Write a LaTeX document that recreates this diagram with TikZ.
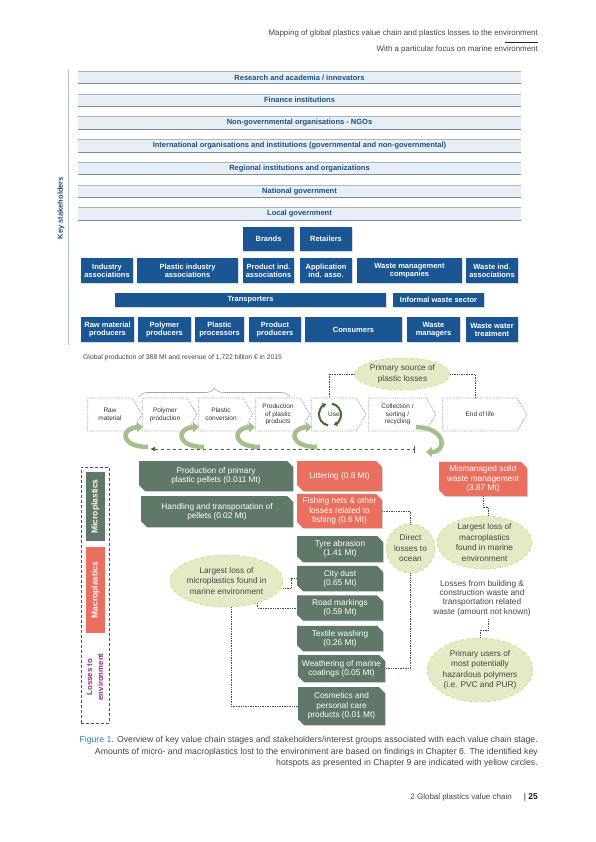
\documentclass[tikz,border=0pt]{standalone}
\usepackage{fontspec}
\setmainfont{Liberation Sans}
\usetikzlibrary{positioning,shapes.geometric,shapes.misc,shapes.symbols,shadows,arrows.meta,decorations.pathreplacing,calc}

\definecolor{bandfill}{HTML}{E6EEF6}
\definecolor{bandline}{HTML}{7F8A94}
\definecolor{stakeblue}{HTML}{1E4F82}
\definecolor{actorblue}{HTML}{1B5694}
\definecolor{microgreen}{HTML}{5F7867}
\definecolor{macrored}{HTML}{EA6F5F}
\definecolor{hotfill}{HTML}{E3EBC6}
\definecolor{hotline}{HTML}{E3CD5C}
\definecolor{losspurple}{HTML}{8E2B8E}
\definecolor{cyclelight}{HTML}{A3BF8C}
\definecolor{cycledark}{HTML}{3F6E29}
\definecolor{captionblue}{HTML}{2F7FB8}
\definecolor{textgray}{HTML}{444444}

\tikzset{
  band/.style={fill=bandfill, minimum width=443pt, minimum height=12.5pt, inner sep=0pt,
    text=stakeblue, font=\bfseries\fontsize{7.5}{8}\selectfont},
  actor/.style={fill=actorblue, text=white, align=center, inner sep=1pt,
    font=\bfseries\fontsize{7.5}{8}\selectfont,
    drop shadow={shadow xshift=0.8pt, shadow yshift=-0.8pt, opacity=0.3}},
  stage/.style={signal, signal to=east, signal from=nowhere, signal pointer angle=120,
    draw=gray!80, densely dotted, line width=0.8pt, align=center, inner sep=1pt,
    minimum height=33pt, font=\fontsize{6.5}{7.7}\selectfont, text=textgray!70!black},
  lossbox/.style={chamfered rectangle, chamfered rectangle corners={north east,south west},
    chamfered rectangle xsep=3pt, chamfered rectangle ysep=3pt, text=white, align=center,
    inner sep=1pt, font=\fontsize{8.3}{9.3}\selectfont,
    drop shadow={shadow xshift=0.8pt, shadow yshift=-0.8pt, opacity=0.3}},
  micro/.style={lossbox, fill=microgreen},
  macro/.style={lossbox, fill=macrored},
  hotspot/.style={ellipse, fill=hotfill, draw=hotline, dashed, line width=0.6pt,
    align=center, inner sep=0pt, text=textgray, font=\fontsize{8.3}{10.5}\selectfont},
  link/.style={densely dotted, draw=gray!60!black, line width=0.7pt},
  sidelabel/.style={rotate=90, text=white, inner sep=0pt, font=\bfseries\fontsize{8.5}{9}\selectfont},
}

\begin{document}
\begin{tikzpicture}[x=1pt, y=-1pt]
\useasboundingbox (0,0) rectangle (595,842);

% header
\node[anchor=east, inner sep=0pt, text=textgray, font=\fontsize{7.9}{9}\selectfont] (header) at (538,33)
  {Mapping of global plastics value chain and plastics losses to the environment};
\draw[gray!30!black, line width=0.8pt] (505,42) -- (538,42);
\node[anchor=east, inner sep=0pt, text=textgray, font=\fontsize{7.9}{9}\selectfont] (subheader) at (538,49)
  {With a particular focus on marine environment};

% key stakeholders
\draw[stakeblue!35, line width=1pt] (68,70) -- (68,345);
\node[rotate=90, text=stakeblue, font=\bfseries\fontsize{7.5}{8}\selectfont] (keylabel) at (61,208) {Key stakeholders};

\foreach \txt [count=\i] in {Research and academia / innovators, Finance institutions,
    Non-governmental organisations - NGOs,
    International organisations and institutions (governmental and non-governmental),
    Regional institutions and organizations, National government, Local government}{
  \node[band] (band\i) at (299.5,{77.5+(\i-1)*22.75}) {\txt};
  \draw[gray!60, line width=0.5pt] (band\i.north west) -- (band\i.north east);
  \draw[bandline, line width=1pt] (band\i.south west) -- (band\i.south east);
}

\foreach \nm/\cx/\w/\txt in {brands/268.5/51/Brands, retailers/326/52/Retailers}
  \node[actor, minimum width=\w pt, minimum height=24pt] (\nm) at (\cx,239) {\txt};
\foreach \nm/\cx/\w/\txt in {indasso/107/52/Industry\\associations,
    plasasso/187.5/101/Plastic industry\\associations,
    prodasso/268.5/51/Product ind.\\associations,
    appasso/326/52/Application\\ind. asso.,
    wastecomp/409.5/105/Waste management\\companies,
    wasteasso/492/52/Waste ind.\\associations}
  \node[actor, minimum width=\w pt, minimum height=25pt] (\nm) at (\cx,270.5) {\txt};
\node[actor, minimum width=271pt, minimum height=14pt] (transport) at (250.5,300) {Transporters};
\node[actor, minimum width=91pt, minimum height=14pt] (informal) at (438.5,300) {Informal waste sector};
\foreach \nm/\cx/\w/\txt in {rawprod/107.5/53/Raw material\\producers,
    polyprod/164.5/53/Polymer\\producers,
    processors/219.5/49/Plastic\\processors,
    prodprod/275/52/Product\\producers,
    consumers/353.5/97/Consumers,
    wasteman/433.5/53/Waste\\managers,
    wastewater/492/52/Waste water\\treatment}
  \node[actor, minimum width=\w pt, minimum height=25pt] (\nm) at (\cx,329.5) {\txt};

% value chain
\node[anchor=west, inner sep=0pt, text=textgray, font=\fontsize{6.8}{7.5}\selectfont] (globalprod) at (83,358)
  {Global production of 388 Mt and revenue of 1,722 billion € in 2015};

\node[stage, minimum width=54pt] (raw) at (110,414.5) {Raw\\material};
\node[stage, minimum width=54pt] (polymer) at (165,414.5) {Polymer\\production};
\node[stage, minimum width=54pt] (conversion) at (221,414.5) {Plastic\\conversion};
\node[stage, minimum width=54pt] (products) at (278,414.5) {Production\\of plastic\\products};
\node[stage, minimum width=54pt] (use) at (334,414.5) {Use};
\node[stage, minimum width=67pt] (collect) at (397.5,414.5) {Collection /\\sorting /\\recycling};
\node[stage, minimum width=84pt] (eol) at (480,414.5) {End of life};

\draw[gray!70, line width=0.6pt, decorate, decoration={brace, amplitude=9pt}]
  (139,397) -- (290,397);

\draw[cycledark, line width=2pt, -{Triangle[width=5pt,length=3.5pt]}]
  ($(use.center)+(-4,0)$) ++(100:11) arc[start angle=100, end angle=250, radius=11];
\draw[cycledark, line width=2pt, -{Triangle[width=5pt,length=3.5pt]}]
  ($(use.center)+(-4,0)$) ++(280:11) arc[start angle=280, end angle=430, radius=11];

\node[hotspot, minimum width=95pt, minimum height=32pt] (psource) at (402.5,374)
  {Primary source of\\plastic losses};
\draw[link] (psource.west) -| ([xshift=-5pt]use.north);
\draw[link] (psource.east) -| ([xshift=-5pt]eol.north);

% recirculation arrows
\foreach \bx in {137,193,249,306}
  \draw[cyclelight, line width=4.5pt, -{Triangle[width=10pt,length=6pt]}]
    (\bx+11,447) .. controls (\bx-17,447) and (\bx-17,428) .. (\bx+6,427);
\draw[cyclelight, line width=4.5pt, -{Triangle[width=10pt,length=6pt]}]
  (416,427) .. controls (447,428) and (447,452) .. (426,452);

\coordinate (backstart) at (415,449);
\coordinate (backend) at (150,449);
\draw[cycledark, dashed, line width=1pt, {Latex[length=5pt,width=5pt]}-{Bar[width=7pt]}]
  (backend) -- (backstart);

% losses to environment
\node[draw=losspurple, densely dashed, line width=0.8pt, minimum width=28pt, minimum height=256pt] (lossframe) at (95,595) {};
\node[sidelabel, fill=microgreen, minimum width=69pt, minimum height=19pt] (microlabel) at (95.5,506.5) {Microplastics};
\node[sidelabel, fill=macrored, minimum width=86pt, minimum height=19pt] (macrolabel) at (95.5,590) {Macroplastics};
\node[rotate=90, align=center, text=losspurple, font=\bfseries\fontsize{7.8}{11}\selectfont] (losslabel) at (95,677)
  {Losses to\\environment};

\node[micro, minimum width=154pt, minimum height=30pt] (pellets) at (216,476)
  {Production of primary\\plastic pellets (0.011 Mt)};
\node[micro, minimum width=152pt, minimum height=31pt] (handling) at (217,511.5)
  {Handling and transportation of\\pellets (0.02 Mt)};
\node[macro, minimum width=85pt, minimum height=30pt] (littering) at (339.5,476) {Littering (0.8 Mt)};
\node[macro, minimum width=85pt, minimum height=32pt] (fishing) at (339.5,511)
  {Fishing nets \& other\\losses related to\\fishing (0.6 Mt)};
\node[micro, minimum width=86pt, minimum height=26pt] (tyre) at (340,549) {Tyre abrasion\\(1.41 Mt)};
\node[micro, minimum width=86pt, minimum height=23pt] (citydust) at (340,578.5) {City dust\\(0.65 Mt)};
\node[micro, minimum width=86pt, minimum height=24pt] (road) at (340,608) {Road markings\\(0.59 Mt)};
\node[micro, minimum width=86pt, minimum height=25pt] (textile) at (340,638.5) {Textile washing\\(0.26 Mt)};
\node[micro, minimum width=87pt, minimum height=27pt] (weathering) at (341.5,668.5)
  {Weathering of marine\\coatings (0.05 Mt)};
\node[micro, minimum width=87pt, minimum height=38pt] (cosmetics) at (341.5,706)
  {Cosmetics and\\personal care\\products (0.01 Mt)};
\node[macro, minimum width=88pt, minimum height=32pt] (mismanaged) at (483,479)
  {Mismanaged solid\\waste management\\(3.87 Mt)};

\node[hotspot, minimum width=49pt, minimum height=49pt] (direct) at (410.5,548.5) {Direct\\losses to\\ocean};
\node[hotspot, minimum width=95pt, minimum height=49pt] (macroloss) at (484.5,542.5)
  {Largest loss of\\macroplastics\\found in marine\\environment};
\node[hotspot, minimum width=103pt, minimum height=52pt] (microloss) at (226.5,581)
  {Largest loss of\\microplastics found in\\marine environment};
\node[hotspot, minimum width=94pt, minimum height=64pt] (users) at (480,670)
  {Primary users of\\most potentially\\hazardous polymers\\(i.e. PVC and PUR)};
\node[align=center, text=textgray, font=\fontsize{8.3}{9.3}\selectfont] (building) at (482,598)
  {Losses from building \&\\construction waste and\\transportation related\\waste (amount not known)};

\draw[link] (fishing.east) -| (direct.north);
\draw[link] (direct.south) |- (weathering.east);
\draw[link] (mismanaged.south) -- ++(0,11) -| ([xshift=4pt]macroloss.north);
\draw[link] ([xshift=6pt]building.south) -- ++(0,11) -| (users.north);
\draw[link] ([yshift=-7pt]microloss.east) -- ++(8,0) |- (citydust.west);
\draw[link] (microloss.-35) |- (road.west);
\draw[link] (microloss.-80) |- (cosmetics.west);

% caption and footer
\node[anchor=north east, inner sep=0pt, align=right, text=textgray, font=\fontsize{8.7}{11.5}\selectfont] (caption) at (538,736)
  {\textcolor{captionblue}{Figure 1}. Overview of key value chain stages and stakeholders/interest groups associated with each value chain stage.\\
   Amounts of micro- and macroplastics lost to the environment are based on findings in Chapter 6. The identified key\\
   hotspots as presented in Chapter 9 are indicated with yellow circles.};
\node[anchor=east, inner sep=0pt, text=textgray, font=\fontsize{8}{9}\selectfont] (chapter) at (512,797) {2 Global plastics value chain};
\node[anchor=east, inner sep=0pt, text=gray!20!black, font=\fontsize{8.5}{9}\selectfont] (pagenum) at (538,797) {| \textbf{25}};
\end{tikzpicture}
\end{document}
